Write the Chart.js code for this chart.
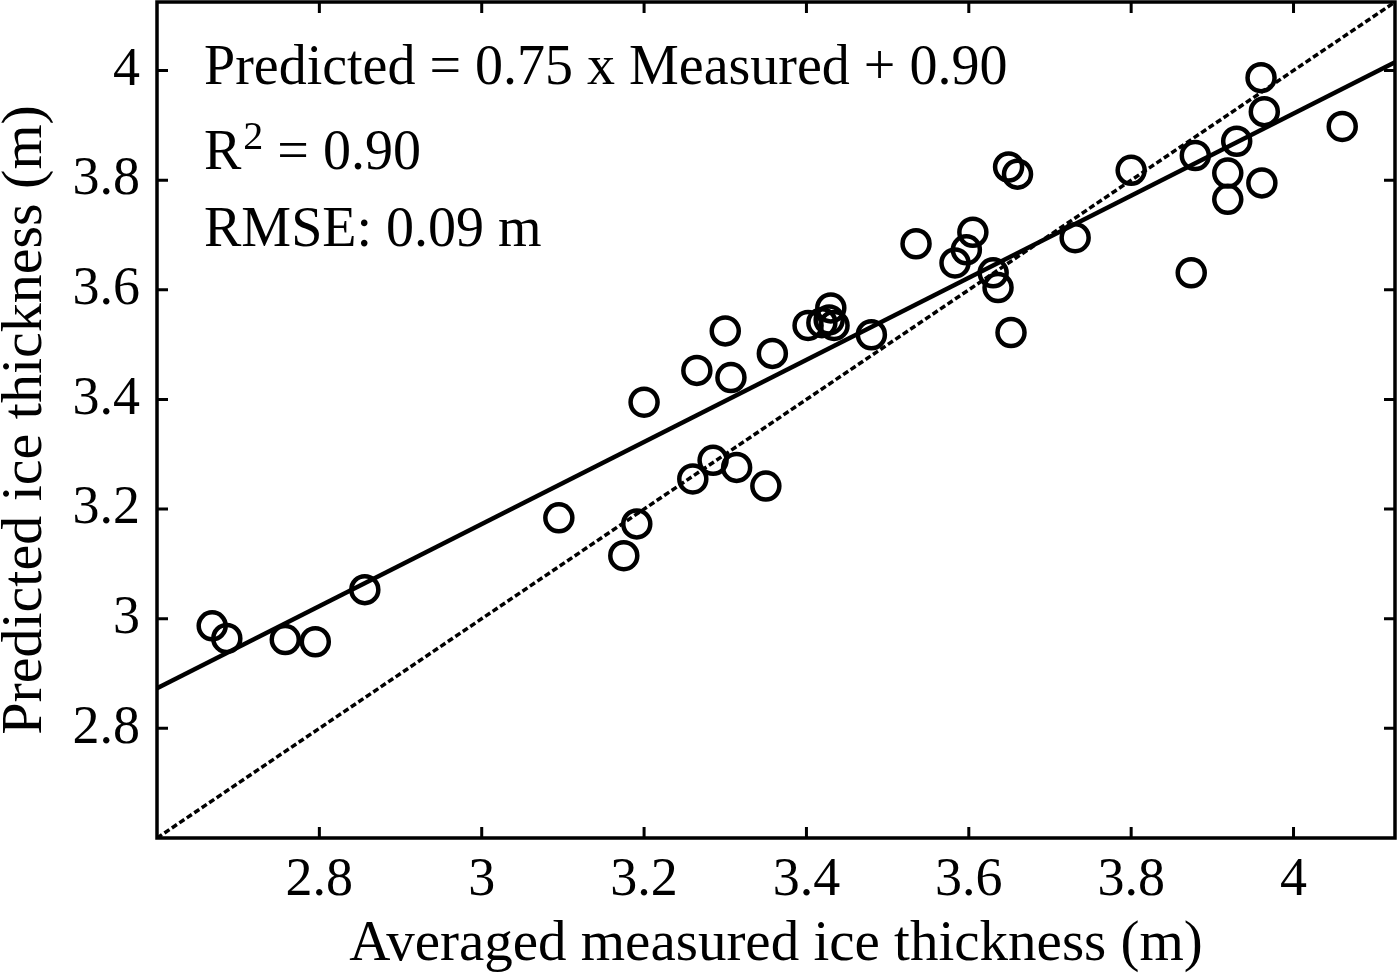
<!DOCTYPE html>
<html>
<head>
<meta charset="utf-8">
<script src="https://cdn.jsdelivr.net/npm/chart.js@4.4.1/dist/chart.umd.min.js"></script>
<style>
  html, body { margin: 0; padding: 0; background: #fff; }
  #wrap { width: 1400px; height: 979px; }
</style>
</head>
<body>
<div id="wrap"><canvas id="chart" width="1400" height="979"></canvas></div>
<script>
// values
const measured = [
  2.668, 2.686, 2.758, 2.795, 2.856, 3.095, 3.175, 3.191, 3.200, 3.260,
  3.265, 3.285, 3.300, 3.307, 3.314, 3.350, 3.358, 3.402, 3.419, 3.430,
  3.428, 3.434, 3.480, 3.535, 3.583, 3.597, 3.605, 3.630, 3.636, 3.652,
  3.649, 3.660, 3.731, 3.800, 3.874, 3.879, 3.919, 3.919, 3.930, 3.961,
  3.960, 3.964, 4.060
];
const predicted = [
  2.987, 2.964, 2.962, 2.958, 3.053, 3.184, 3.115, 3.173, 3.395, 3.255,
  3.453, 3.289, 3.525, 3.440, 3.276, 3.242, 3.484, 3.535, 3.540, 3.567,
  3.545, 3.535, 3.518, 3.684, 3.649, 3.673, 3.705, 3.631, 3.604, 3.522,
  3.824, 3.811, 3.695, 3.818, 3.631, 3.845, 3.765, 3.813, 3.871, 3.795,
  3.987, 3.925, 3.898
];

const xTicks = [2.8, 3, 3.2, 3.4, 3.6, 3.8, 4];
const yTicks = [2.8, 3, 3.2, 3.4, 3.6, 3.8, 4];
const axisMin = 2.6;
const axisMax = 4.125;

// regression line ends and the 1:1 line
const fitX = [2.6, 4.125];
const fitY = [2.873, 4.015];
const oneToOne = [2.6, 4.125];

const fontFamily = '"Liberation Serif", "Times New Roman", serif';

const frame = {
    id: 'frame',
    afterDatasetsDraw(chart) {
        const { ctx, chartArea: a, scales } = chart;
        ctx.save();
        ctx.strokeStyle = '#000';
        ctx.lineWidth = 3.5;
        ctx.strokeRect(a.left, a.top, a.right - a.left, a.bottom - a.top);

        // inward ticks on all four sides
        ctx.lineWidth = 3;
        ctx.beginPath();
        xTicks.forEach(v => {
            const px = scales.x.getPixelForValue(v);
            ctx.moveTo(px, a.bottom); ctx.lineTo(px, a.bottom - 11);
            ctx.moveTo(px, a.top); ctx.lineTo(px, a.top + 11);
        });
        yTicks.forEach(v => {
            const py = scales.y.getPixelForValue(v);
            ctx.moveTo(a.left, py); ctx.lineTo(a.left + 11, py);
            ctx.moveTo(a.right, py); ctx.lineTo(a.right - 11, py);
        });
        ctx.stroke();

        // fit statistics
        const tx = a.left + 47;
        ctx.fillStyle = '#000';
        ctx.textBaseline = 'alphabetic';
        ctx.textAlign = 'left';
        ctx.font = '56px ' + fontFamily;
        ctx.fillText('Predicted = 0.75 x Measured + 0.90', tx, 84);
        ctx.fillText('R', tx, 169);
        const rw = ctx.measureText('R').width;
        ctx.font = '40px ' + fontFamily;
        ctx.fillText('2', tx + rw + 2, 149);
        const sw = ctx.measureText('2').width;
        ctx.font = '56px ' + fontFamily;
        ctx.fillText(' = 0.90', tx + rw + sw + 2, 169);
        ctx.fillText('RMSE: 0.09 m', tx, 246);
        ctx.restore();
    }
};

new Chart(document.getElementById('chart'), {
    type: 'scatter',
    data: {
        datasets: [
            {
                data: oneToOne.map(v => ({ x: v, y: v })),
                showLine: true,
                borderColor: '#000',
                borderWidth: 3.5,
                borderDash: [6, 3],
                pointRadius: 0
            },
            {
                data: fitX.map((v, i) => ({ x: v, y: fitY[i] })),
                showLine: true,
                borderColor: '#000',
                borderWidth: 4.5,
                pointRadius: 0
            },
            {
                data: measured.map((v, i) => ({ x: v, y: predicted[i] })),
                showLine: false,
                pointStyle: 'circle',
                pointRadius: 13.5,
                pointBorderWidth: 4.5,
                pointBorderColor: '#000',
                pointBackgroundColor: 'rgba(0,0,0,0)'
            }
        ]
    },
    options: {
        responsive: false,
        devicePixelRatio: 1,
        animation: false,
        layout: {
            autoPadding: false,
            padding: { top: 2, right: 5, left: 0, bottom: 0 }
        },
        plugins: {
            legend: { display: false },
            tooltip: { enabled: false }
        },
        scales: {
            x: {
                type: 'linear',
                min: axisMin,
                max: axisMax,
                afterBuildTicks: s => { s.ticks = xTicks.map(v => ({ value: v })); },
                afterFit: s => {
                    s.height = 141;
                    s.paddingLeft = 0;
                    s.paddingRight = 0;
                },
                grid: { display: false, drawTicks: false },
                border: { display: false },
                ticks: {
                    color: '#000',
                    font: { family: fontFamily, size: 54 },
                    padding: 10,
                    maxRotation: 0,
                    autoSkip: false,
                    callback: v => String(v)
                },
                title: {
                    display: true,
                    text: 'Averaged measured ice thickness (m)',
                    color: '#000',
                    font: { family: fontFamily, size: 57, lineHeight: 1.2 },
                    padding: { top: 0, bottom: 0 }
                }
            },
            y: {
                type: 'linear',
                min: axisMin,
                max: axisMax,
                afterBuildTicks: s => { s.ticks = yTicks.map(v => ({ value: v })); },
                afterFit: s => {
                    s.width = 157;
                    s.paddingTop = 0;
                    s.paddingBottom = 0;
                },
                grid: { display: false, drawTicks: false },
                border: { display: false },
                ticks: {
                    color: '#000',
                    font: { family: fontFamily, size: 54 },
                    padding: 17,
                    autoSkip: false,
                    callback: v => String(v)
                },
                title: {
                    display: true,
                    text: 'Predicted ice thickness (m)',
                    color: '#000',
                    font: { family: fontFamily, size: 58, lineHeight: 0.9 },
                    padding: { top: 0, bottom: 0 }
                }
            }
        }
    },
    plugins: [frame]
});
</script>
</body>
</html>
